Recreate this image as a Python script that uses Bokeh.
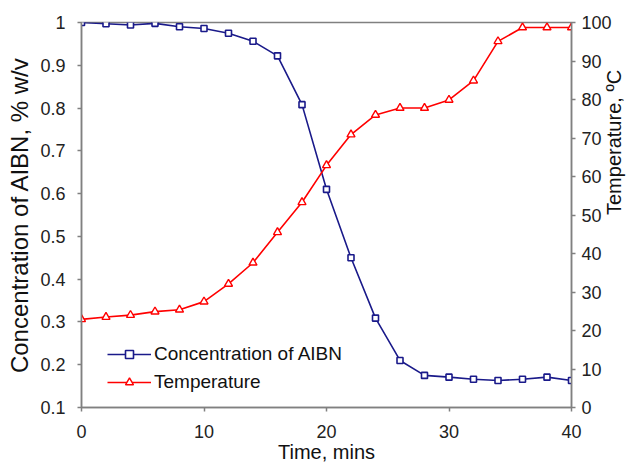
import math
from bokeh.plotting import figure
from bokeh.models import Range1d, LinearAxis, FixedTicker, CustomJSTickFormatter, Legend, LegendItem
from bokeh.embed import file_html
from bokeh.resources import INLINE

time = [0, 2, 4, 6, 8, 10, 12, 14, 16, 18, 20, 22, 24, 26, 28, 30, 32, 34, 36, 38, 40]
aibn = [1.0, 0.997, 0.994, 0.998, 0.99, 0.986, 0.975, 0.956, 0.922, 0.808, 0.61,
        0.45, 0.309, 0.21, 0.175, 0.171, 0.166, 0.163, 0.166, 0.171, 0.163]
temp = [22.9, 23.5, 24.0, 24.9, 25.4, 27.5, 32.1, 37.6, 45.5, 53.3, 62.9,
        70.9, 76.0, 77.8, 77.8, 79.9, 84.9, 95.1, 98.7, 98.7, 98.7]
left_ticks = [0.1, 0.2, 0.3, 0.4, 0.5, 0.6, 0.7, 0.8, 0.9, 1.0]
right_ticks = [0, 10, 20, 30, 40, 50, 60, 70, 80, 90, 100]
x_ticks = [0, 10, 20, 30, 40]

FONT = "Liberation Sans"
AX = "#808080"
BLUE = "#1a1a8a"
RED = "#ff0000"

p = figure(width=638, height=467, output_backend="svg", toolbar_location=None,
           x_range=Range1d(0, 40), y_range=Range1d(0.1, 1.0),
           min_border_left=81, min_border_right=65, min_border_top=22, min_border_bottom=60)
p.extra_y_ranges = {"temp": Range1d(0, 100)}
p.xgrid.visible = False
p.ygrid.visible = False
p.outline_line_color = AX
p.outline_line_width = 1.5
p.background_fill_color = "white"
p.border_fill_color = "white"

def style(ax, label_size):
    ax.axis_line_color = AX
    ax.axis_line_width = 1.5
    ax.major_tick_line_color = AX
    ax.major_tick_line_width = 1.5
    ax.major_tick_out = 4
    ax.major_tick_in = 0
    ax.minor_tick_line_color = None
    ax.major_label_text_font = FONT
    ax.major_label_text_font_size = "18px"
    ax.major_label_text_color = "#222222"
    ax.axis_label_text_font = FONT
    ax.axis_label_text_font_size = label_size
    ax.axis_label_text_font_style = "normal"
    ax.axis_label_text_color = "#111111"

xa = p.xaxis[0]
xa.ticker = FixedTicker(ticks=x_ticks)
xa.axis_label = "Time, mins"
style(xa, "20px")
xa.major_label_standoff = 13
xa.axis_label_standoff = 0

ya = p.yaxis[0]
ya.ticker = FixedTicker(ticks=left_ticks)
ya.formatter = CustomJSTickFormatter(code="return Number(tick.toFixed(1)).toString();")
ya.axis_label = "Concentration of AIBN, % w/v"
style(ya, "24px")
ya.major_label_standoff = 12
ya.axis_label_standoff = 4

ra = LinearAxis(y_range_name="temp", ticker=FixedTicker(ticks=right_ticks),
                axis_label="Temperature, \u00baC")
style(ra, "20px")
ra.major_label_standoff = 6
ra.axis_label_standoff = -1
try:
    ra.axis_label_orientation = math.pi / 2
except Exception:
    pass
p.add_layout(ra, "right")

bl = p.line(time, aibn, line_color=BLUE, line_width=1.6)
bm = p.scatter(time, aibn, marker="square", size=6, line_color=BLUE, fill_color="white", line_width=1.6)
rl = p.line(time, temp, line_color=RED, line_width=1.6, y_range_name="temp")
rm = p.scatter(time, temp, marker="triangle", size=8, line_color=RED, fill_color="white", line_width=1.4,
               y_range_name="temp")

legend = Legend(items=[LegendItem(label="Concentration of AIBN", renderers=[bl, bm]),
                       LegendItem(label="Temperature", renderers=[rl, rm])],
                location=(26, 14), border_line_color=None, background_fill_alpha=0,
                label_text_font=FONT, label_text_font_size="19px", label_text_color="#111111",
                glyph_width=44, glyph_height=20, label_height=20, spacing=6, label_standoff=3,
                padding=0, margin=0)
p.add_layout(legend)

open("out.html", "w").write(file_html(p, INLINE))
